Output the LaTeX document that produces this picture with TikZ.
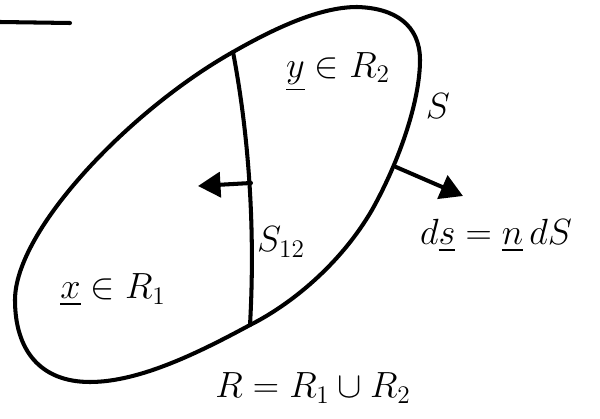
\documentclass[tikz,border=0pt]{standalone}
\usepackage{amsmath, amssymb}
\usetikzlibrary{arrows.meta}

\begin{document}
\begin{tikzpicture}[x=0.02cm, y=-0.02cm,
            stroke/.style={line width=2.3pt, line cap=round, line join=round},
            normal/.style={stroke, -{Triangle[length=4.5mm, width=5mm]}},
            label/.style={font=\fontsize{22}{26}\selectfont}
        ]
            \useasboundingbox (0,0) rectangle (600,419);

            \draw[stroke] (0,22) -- (70,23);

            % region R with boundary S
            \coordinate (T) at (233,52);
            \coordinate (B) at (250,325);
            \draw[stroke] (357,7) .. controls (395,8) and (420,25) .. (420,60)
                .. controls (420,100) and (400,160) .. (372,210)
                .. controls (340,265) and (290,305) .. (B)
                .. controls (200,352) and (140,382) .. (90,382)
                .. controls (40,382) and (15,350) .. (15,300)
                .. controls (15,230) and (130,110) .. (T)
                .. controls (275,28) and (320,7) .. (357,7) -- cycle;

            % inner surface S12
            \draw[stroke] (T) .. controls (247,125) and (256,220) .. (B);

            \coordinate (P12) at (251,183);
            \coordinate (Q12) at (198,186);
            \coordinate (P) at (396,167);
            \coordinate (Q) at (463,196);
            \draw[normal] (P12) -- (Q12);
            \draw[normal] (P) -- (Q);

            \node[label] (yR) at (338,72) {$\underline{y}\in R_2$};
            \node[label] (S) at (438,106) {$S$};
            \node[label] (S12) at (281,242) {$S_{12}$};
            \node[label] (dS) at (496,236) {$d\underline{s} = \underline{n}\,dS$};
            \node[label] (xR) at (113,290) {$\underline{x}\in R_1$};
            \node[label] (R) at (313,388) {$R = R_1 \cup R_2$};
        \end{tikzpicture}
\end{document}
